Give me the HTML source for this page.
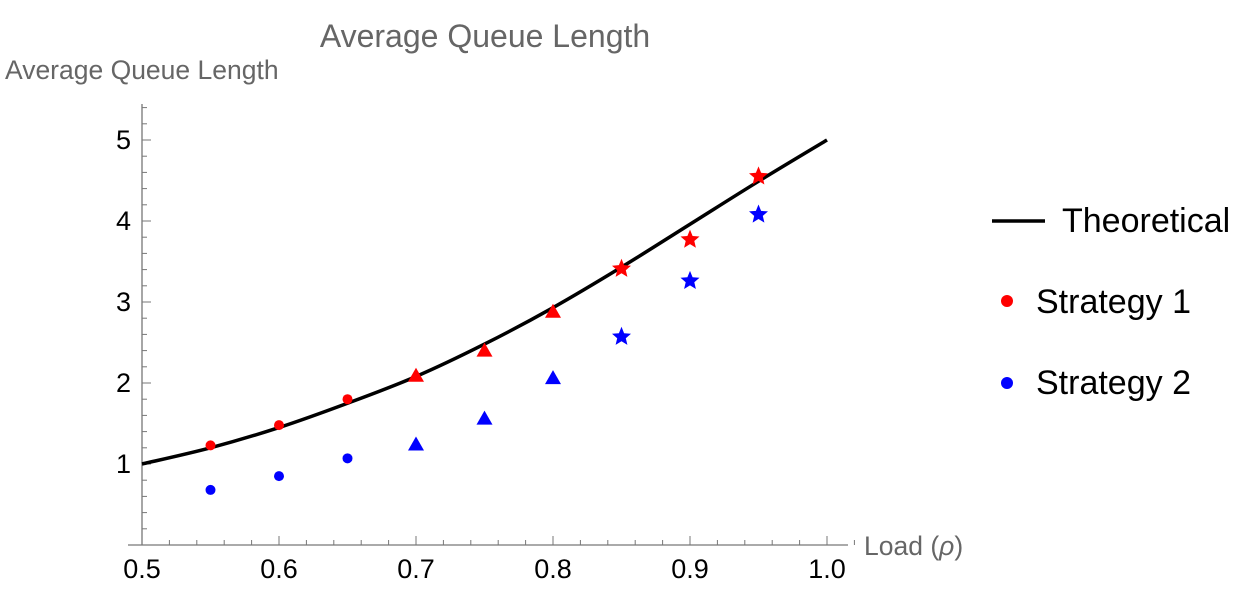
<!DOCTYPE html>
<html><head><meta charset="utf-8"><style>
body{margin:0;background:#fff;width:1242px;height:609px;overflow:hidden}
svg text{font-family:"Liberation Sans",sans-serif}
</style></head><body>
<svg id="c" width="1242" height="609">
<text x="485" y="47" font-size="32" fill="#666" text-anchor="middle">Average Queue Length</text>
<text x="5" y="79" font-size="26.5" fill="#666">Average Queue Length</text>
<text x="864" y="555" font-size="26.5" fill="#666">Load (<tspan font-style="italic">ρ</tspan>)</text>
<g id="axes"></g>
<g id="marks"></g>
<g>
<line x1="992" y1="221" x2="1045" y2="221" stroke="#000" stroke-width="3.5"/>
<text x="1062" y="232" font-size="34">Theoretical</text>
<circle cx="1007" cy="301" r="6" fill="#f00"/>
<text x="1036" y="313" font-size="34">Strategy 1</text>
<circle cx="1007" cy="383" r="6" fill="#00f"/>
<text x="1036" y="394" font-size="34">Strategy 2</text>
</g>
</svg>
<script>
const loads=[0.55,0.6,0.65,0.7,0.75,0.8,0.85,0.9,0.95];
const shapes=["circle","circle","circle","triangle","triangle","triangle","star","star","star"];
const strategy1=[1.23,1.48,1.8,2.09,2.4,2.88,3.41,3.77,4.55];
const strategy2=[0.68,0.85,1.07,1.24,1.56,2.06,2.57,3.26,4.08];
const theoX=[0.5,0.55,0.6,0.65,0.7,0.75,0.8,0.85,0.9,0.95,1.0];
const theoY=[1.0,1.2,1.45,1.75,2.08,2.48,2.93,3.43,3.96,4.49,5.0];
const xTicks=[0.5,0.6,0.7,0.8,0.9,1.0];
const xTickLabels=["0.5","0.6","0.7","0.8","0.9","1.0"];
const yTicks=[1,2,3,4,5];
const yTickLabels=["1","2","3","4","5"];
const X=v=>142+(v-0.5)*1370;
const Y=v=>545-v*81;
const NS="http://www.w3.org/2000/svg";
function mk(t,a,p){const e=document.createElementNS(NS,t);for(const k in a)e.setAttribute(k,a[k]);p.appendChild(e);return e;}
const ax=document.getElementById('axes'),mg=document.getElementById('marks');
let e=mk('line',{x1:128,y1:545,x2:848,y2:545,stroke:'#777','stroke-width':1.3},ax);


e=mk('line',{x1:142,y1:545,x2:142,y2:104,stroke:'#777','stroke-width':1.3},ax);


for(let i=0;i<=26;i++){const v=0.5+i*0.02;const maj=i%5==0;
 mk('line',{x1:X(v),y1:545,x2:X(v),y2:maj?536:540,stroke:'#777','stroke-width':1},ax);}
for(let i=1;i<=27;i++){const v=i*0.2;const maj=i%5==0;
 mk('line',{x1:142,y1:Y(v),x2:maj?151:147,y2:Y(v),stroke:'#777','stroke-width':1},ax);}
xTicks.forEach((v,i)=>{const t=mk('text',{x:X(v),y:578,'font-size':27,'text-anchor':'middle'},ax);t.textContent=xTickLabels[i];
 
 });
yTicks.forEach((v,i)=>{const t=mk('text',{x:131,y:Y(v)+9,'font-size':27,'text-anchor':'end'},ax);t.textContent=yTickLabels[i];
 
 });
const pts=theoX.map((x,i)=>[X(x),Y(theoY[i])]);
let d=`M${pts[0][0]},${pts[0][1]}`;
for(let i=0;i<pts.length-1;i++){const p0=pts[Math.max(0,i-1)],p1=pts[i],p2=pts[i+1],p3=pts[Math.min(pts.length-1,i+2)];
 d+=` C${p1[0]+(p2[0]-p0[0])/6},${p1[1]+(p2[1]-p0[1])/6} ${p2[0]-(p3[0]-p1[0])/6},${p2[1]-(p3[1]-p1[1])/6} ${p2[0]},${p2[1]}`;}
const line=mk('path',{d:d,fill:'none',stroke:'#000','stroke-width':3.5},mg);


function star(cx,cy,R){let s='';for(let k=0;k<10;k++){const r=k%2?R*0.45:R;const a=-Math.PI/2+k*Math.PI/5;s+=(cx+r*Math.cos(a)).toFixed(1)+','+(cy+r*Math.sin(a)).toFixed(1)+' ';}return s;}
function marker(v,val,shape,col,name){const cx=X(v),cy=Y(val);let m;
 if(shape=='circle')m=mk('circle',{cx,cy,r:5,fill:col},mg);
 else if(shape=='triangle')m=mk('polygon',{points:`${cx},${cy-8} ${cx-8},${cy+6} ${cx+8},${cy+6}`,fill:col},mg);
 else m=mk('polygon',{points:star(cx,cy,10),fill:col},mg);
 
 }
loads.forEach((v,i)=>{marker(v,strategy2[i],shapes[i],'#00f','strategy-2-point');marker(v,strategy1[i],shapes[i],'#f00','strategy-1-point');});
</script>
</body></html>
